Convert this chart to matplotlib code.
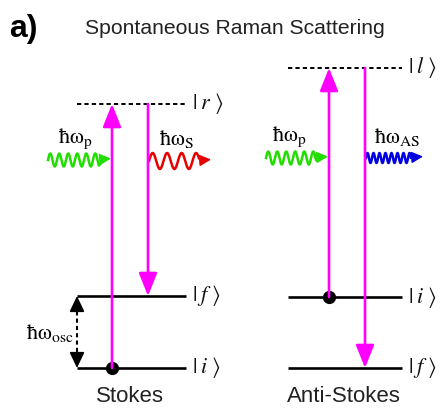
import numpy as np
import matplotlib
matplotlib.use("Agg")
import matplotlib.pyplot as plt

plt.rcParams["mathtext.fontset"] = "stix"

MAGENTA = "#ff00ff"

# Energy levels (vertical position, top = 0) for each scheme
stokes_levels = {"r": 104, "f": 296, "i": 368}
astokes_levels = {"l": 68, "i": 297, "f": 368}
stokes_x = (77, 186)
astokes_x = (288, 402)

# Transition arrow positions
stokes_up_x, stokes_down_x = 112, 148
astokes_up_x, astokes_down_x = 329, 365

# Photon wave parameters: (x start, x end, y, wavelength, amplitude, colour)
photons = [
    (48, 111, 160, 9.0, 6.5, "#22dd00"),
    (149, 211, 161, 14.5, 8.0, "#e80000"),
    (266, 328, 158, 9.0, 6.5, "#22dd00"),
    (366, 423, 158, 6.0, 5.0, "#0000e0"),
]

fig = plt.figure(figsize=(4.46, 4.08), dpi=100)
ax = fig.add_axes([0, 0, 1, 1])
ax.set_xlim(0, 446)
ax.set_ylim(408, 0)
ax.axis("off")

# Titles
ax.text(9, 29, "a)", fontsize=23, fontweight="bold", family="Liberation Sans",
        va="center", ha="left")
ax.text(235, 29, "Spontaneous Raman Scattering", fontsize=15.2,
        family="Liberation Sans", va="center", ha="center", color="#222222")


def level(x0, x1, y, dashed=False):
    if dashed:
        ax.plot([x0, x1], [y, y], color="black", lw=1.4, ls=(0, (2.2, 1.6)),
                solid_capstyle="butt")
    else:
        ax.plot([x0, x1], [y, y], color="black", lw=1.9, solid_capstyle="butt")


def ket(x, y, s):
    ax.text(x, y, r"$|\;%s\;\rangle$" % s, fontsize=16, va="center", ha="left",
            color="#111111")


def transition(x, y0, y1):
    ax.annotate("", xy=(x, y1), xytext=(x, y0),
                arrowprops=dict(arrowstyle="-|>,head_length=1.0,head_width=0.4",
                                color=MAGENTA, lw=1.9, shrinkA=0, shrinkB=0,
                                mutation_scale=14))


def photon(x0, x1, y, lam, amp, color):
    xe = x1 - 12
    xs = np.linspace(x0, xe, 400)
    ys = y - amp * np.sin(2 * np.pi * (xs - x0) / lam)
    # smooth tail curving into the arrow head
    tx = np.linspace(xe, x1 - 5, 30)
    t = (tx - xe) / (x1 - 5 - xe)
    ty = ys[-1] + (y - 1 - ys[-1]) * np.sin(t * np.pi / 2)
    ax.plot(np.r_[xs, tx], np.r_[ys, ty], color=color, lw=1.8)
    ax.annotate("", xy=(x1, y - 1.5), xytext=(x1 - 6, y - 1),
                arrowprops=dict(arrowstyle="-|>,head_length=0.7,head_width=0.35",
                                color=color, lw=1.0, shrinkA=0, shrinkB=0,
                                mutation_scale=10))


def energy_label(x, y, sub):
    ax.text(x, y, r"$\mathrm{\hbar\omega}_{\mathrm{%s}}$" % sub, fontsize=16,
            ha="center", va="center")


# Stokes scheme
level(*stokes_x, stokes_levels["r"], dashed=True)
level(*stokes_x, stokes_levels["f"])
level(*stokes_x, stokes_levels["i"])
for name in ("r", "f", "i"):
    ket(192, stokes_levels[name], name)
transition(stokes_up_x, stokes_levels["i"], stokes_levels["r"])
transition(stokes_down_x, stokes_levels["r"], stokes_levels["f"])
ax.plot(stokes_up_x, stokes_levels["i"], "o", color="black", ms=8.5)

# Vibrational quantum between |i> and |f>
xo = 77
ax.plot([xo, xo], [stokes_levels["f"] + 8, stokes_levels["i"] - 8], color="black",
        lw=1.5, ls=(0, (2, 1.5)))
for ya, yb in [(stokes_levels["f"] + 10, stokes_levels["f"]),
               (stokes_levels["i"] - 10, stokes_levels["i"])]:
    ax.annotate("", xy=(xo, yb), xytext=(xo, ya),
                arrowprops=dict(arrowstyle="-|>,head_length=0.8,head_width=0.38",
                                color="black", lw=1.2, shrinkA=0, shrinkB=0,
                                mutation_scale=12))
energy_label(50, 333, "osc")

# Anti-Stokes scheme
level(*astokes_x, astokes_levels["l"], dashed=True)
level(*astokes_x, astokes_levels["i"])
level(*astokes_x, astokes_levels["f"])
for name in ("l", "i", "f"):
    ket(408, astokes_levels[name], name)
transition(astokes_up_x, astokes_levels["i"], astokes_levels["l"])
transition(astokes_down_x, astokes_levels["l"], astokes_levels["f"])
ax.plot(astokes_up_x, astokes_levels["i"], "o", color="black", ms=8.5)

# Photons
for p in photons:
    photon(*p)
energy_label(75, 139, "p")
energy_label(177, 139, "S")
energy_label(289, 137, "p")
energy_label(397, 137, "AS")

ax.text(130, 397, "Stokes", fontsize=16, family="Liberation Sans",
        ha="center", va="center", color="#222222")
ax.text(344, 397, "Anti-Stokes", fontsize=16, family="Liberation Sans",
        ha="center", va="center", color="#222222")

fig.savefig("out.png", dpi=100)
